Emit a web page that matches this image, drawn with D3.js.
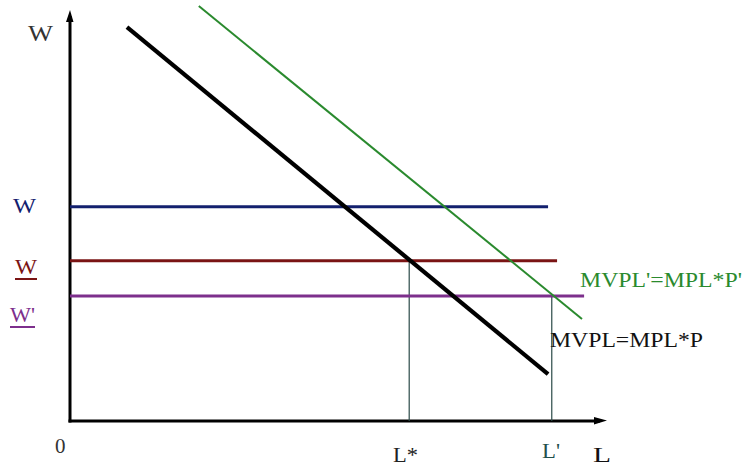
<!DOCTYPE html>
<html>
<head>
<meta charset="utf-8">
<script src="https://cdn.jsdelivr.net/npm/d3@7"></script>
<style>
  html, body { margin: 0; padding: 0; background: #fff; }
  svg { display: block; }
  text { font-family: "Liberation Serif", "DejaVu Serif", serif; }
</style>
</head>
<body>
<svg id="chart" width="745" height="468"></svg>
<script>
// Labour demand curves (value of marginal product), in model units
const mvpl      = [{ l: 10.75, w: 94.9 }, { l: 90.2, w: 11.3 }];
const mvplPrime = [{ l: 24.3, w: 100 }, { l: 96.6, w: 24.6 }];

// Wage levels: name, level, right end of the line, colour
const wageNames  = ["W", "W_", "W'"];
const wageLevels = [51.6, 38.6, 30.1];
const wageEnds   = [90.2, 91.9, 97.0];
const wageColors = ["#13206e", "#7a1414", "#7d2f8c"];

// Employment levels
const employNames  = ["L*", "L'"];
const employLevels = [64.0, 90.9];
const employWages  = [38.6, 30.1];

const width = 745, height = 468;
const svg = d3.select("#chart");

const x = d3.scaleLinear().domain([0, 100]).range([70, 600]);
const y = d3.scaleLinear().domain([0, 100]).range([421, 6]);

const line = d3.line().x(d => x(d.l)).y(d => y(d.w));

// Axes with arrow heads
const axisColor = "#000";
svg.append("line")
  .attr("x1", x(0)).attr("y1", y(0) + 1.5)
  .attr("x2", x(0)).attr("y2", 16)
  .attr("stroke", axisColor).attr("stroke-width", 3);
svg.append("path")
  .attr("d", `M${x(0) - 4},${22} L${x(0)},${10} L${x(0) + 3.5},${22} Z`)
  .attr("fill", axisColor);

svg.append("line")
  .attr("x1", x(0) - 1.5).attr("y1", y(0))
  .attr("x2", 600).attr("y2", y(0))
  .attr("stroke", axisColor).attr("stroke-width", 3);
svg.append("path")
  .attr("d", `M${594},${y(0) - 4} L${607},${y(0) - 0.5} L${594},${y(0) + 3.5} Z`)
  .attr("fill", axisColor);

// Employment drop lines
employLevels.forEach((lv, i) => {
  svg.append("line")
    .attr("x1", x(lv)).attr("y1", y(employWages[i]))
    .attr("x2", x(lv)).attr("y2", y(0))
    .attr("stroke", "#2b4a48").attr("stroke-width", 1.2);
});

// Wage lines
wageLevels.forEach((lv, i) => {
  svg.append("line")
    .attr("x1", x(0)).attr("y1", y(lv))
    .attr("x2", x(wageEnds[i])).attr("y2", y(lv))
    .attr("stroke", wageColors[i]).attr("stroke-width", 3);
});

// Demand curves
svg.append("path").datum(mvplPrime).attr("d", line)
  .attr("fill", "none").attr("stroke", "#2a8a2e").attr("stroke-width", 2);
svg.append("path").datum(mvpl).attr("d", line)
  .attr("fill", "none").attr("stroke", "#000").attr("stroke-width", 4.2);

// Axis labels
svg.append("text").attr("x", 28).attr("y", 41).attr("font-size", 24)
  .attr("textLength", 25).attr("lengthAdjust", "spacingAndGlyphs")
  .attr("fill", "#333").text("W");
svg.append("text").attr("x", 55).attr("y", 453).attr("font-size", 21)
  .attr("fill", "#333").text("0");
svg.append("text").attr("x", 593).attr("y", 462).attr("font-size", 21)
  .attr("textLength", 18).attr("lengthAdjust", "spacingAndGlyphs")
  .attr("fill", "#111").text("L");

// Wage level labels (underlined for the lower two)
const wageLabelY = [213, 274, 322];
const wageLabelX = [13, 15, 10];
const wageLabelW = [23, 22, 25];
wageLevels.forEach((lv, i) => {
  const label = wageNames[i] === "W_" ? "W" : wageNames[i];
  svg.append("text").attr("x", wageLabelX[i]).attr("y", wageLabelY[i])
    .attr("font-size", 22).attr("textLength", wageLabelW[i])
    .attr("lengthAdjust", "spacingAndGlyphs")
    .attr("fill", wageColors[i]).text(label);
  if (i > 0) {
    svg.append("line")
      .attr("x1", wageLabelX[i]).attr("x2", wageLabelX[i] + wageLabelW[i])
      .attr("y1", wageLabelY[i] + 5).attr("y2", wageLabelY[i] + 5)
      .attr("stroke", wageColors[i]).attr("stroke-width", 2);
  }
});

// Employment labels
svg.append("text").attr("x", 393).attr("y", 462).attr("font-size", 20)
  .attr("textLength", 25).attr("lengthAdjust", "spacingAndGlyphs")
  .attr("fill", "#222").text("L*");
svg.append("text").attr("x", 542).attr("y", 458).attr("font-size", 20)
  .attr("textLength", 18).attr("lengthAdjust", "spacingAndGlyphs")
  .attr("fill", "#1f4f4c").text("L'");

// Curve labels
svg.append("text").attr("x", 580).attr("y", 287).attr("font-size", 20)
  .attr("textLength", 162).attr("lengthAdjust", "spacingAndGlyphs")
  .attr("fill", "#2a8a2e").text("MVPL'=MPL*P'");
svg.append("text").attr("x", 550).attr("y", 347).attr("font-size", 20)
  .attr("textLength", 153).attr("lengthAdjust", "spacingAndGlyphs")
  .attr("fill", "#111").text("MVPL=MPL*P");
</script>
</body>
</html>
